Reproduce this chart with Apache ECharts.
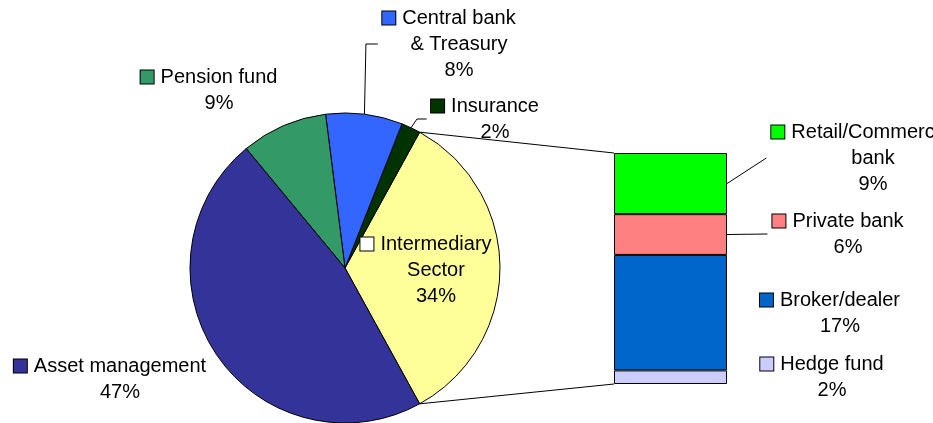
<!DOCTYPE html>
<html><head><meta charset="utf-8">
<script src="https://cdn.jsdelivr.net/npm/echarts@6/dist/echarts.min.js"></script>
<style>html,body{margin:0;padding:0;background:#fff}#c{width:933px;height:423px}</style>
</head><body><div id="c"></div>
<script>
// ---- data ----
const pieNames = ['Intermediary\nSector', 'Insurance', 'Central bank\n& Treasury', 'Pension fund', 'Asset management'];
const pieValues = [34, 2, 8, 9, 47];
const barNames = ['Hedge fund', 'Broker/dealer', 'Private bank', 'Retail/Commercial\nbank'];
const barValues = [2, 17, 6, 9];

// ---- styles / layout ----
const pieColors = ['#FFFF99', '#003300', '#3366FF', '#339966', '#333399'];
const pieKeyColors = ['#FFFFFF', '#003300', '#3366FF', '#339966', '#333399'];
const barColors = ['#CCCCFF', '#0066CC', '#FF8080', '#00FF00'];
const pieLabelPos = [[436, 270], [495, 119], [459, 44], [219, 90], [120, 379]];
const pieLeader = [false, true, true, false, false];
const pieElbowDx = [0, 6, 1.5, 0, 0];
const barLabelPos = [[832, 377], [840, 313], [848, 234], [873, 158]];
const barLeader = [false, false, true, true];
const PIE_C = [345, 268], PIE_R = 155;
const GRID = { left: 614, top: 153, width: 113, height: 231 };
const KEY = 13, GAP = 7;
const FONT = { fontFamily: 'Liberation Sans, Arial, sans-serif', fontSize: 20, color: '#000', lineHeight: 26 };

const pieTotal = pieValues.reduce((a, b) => a + b, 0);
const barTotal = barValues.reduce((a, b) => a + b, 0);
const startAngle = -(pieValues[0] / pieTotal * 360) / 2;

function midAngle(i) {
  let acc = 0;
  for (let k = 0; k < i; k++) acc += pieValues[k];
  return startAngle + (acc + pieValues[i] / 2) / pieTotal * 360;
}

function richFor(prefix, colors) {
  const r = { g: { width: GAP }, p: { width: KEY + GAP } };
  colors.forEach((c, i) => {
    r[prefix + i] = { width: KEY, height: KEY, backgroundColor: c, borderColor: '#000', borderWidth: 1 };
  });
  return r;
}

function labelText(key, name, value) {
  const lines = name.split('\n');
  const out = ['{' + key + '|}{g|}' + lines[0] + '{p|}'];
  for (let k = 1; k < lines.length; k++) out.push(lines[k]);
  out.push(value + '%');
  return out.join('\n');
}

const measureCtx = document.createElement('canvas').getContext('2d');
measureCtx.font = FONT.fontSize + 'px ' + FONT.fontFamily;
function firstLineWidth(name) {
  return measureCtx.measureText(name.split('\n')[0]).width + 2 * (KEY + GAP);
}

const chart = echarts.init(document.getElementById('c'), null, { renderer: 'canvas' });

const series = [{
  type: 'pie',
  center: PIE_C,
  radius: PIE_R,
  startAngle: startAngle,
  clockwise: false,
  avoidLabelOverlap: false,
  silent: true,
  itemStyle: { borderColor: '#000', borderWidth: 1 },
  label: Object.assign({
    show: true, position: 'outside',
    formatter: p => labelText('k' + p.dataIndex, pieNames[p.dataIndex], pieValues[p.dataIndex]),
    rich: richFor('k', pieKeyColors)
  }, FONT),
  labelLine: { show: true, smooth: false, lineStyle: { color: '#000', width: 1 } },
  labelLayout: function (params) {
    const i = params.dataIndex;
    const [cx, cy] = pieLabelPos[i];
    const res = { x: cx, y: cy, align: 'center', verticalAlign: 'middle' };
    if (pieLeader[i]) {
      const a = midAngle(i) * Math.PI / 180;
      const p0 = [PIE_C[0] + PIE_R * Math.cos(a), PIE_C[1] - PIE_R * Math.sin(a)];
      const endX = cx - params.labelRect.width / 2 - 4;
      res.labelLinePoints = [p0, [p0[0] + pieElbowDx[i], cy], [endX, cy]];
    }
    return res;
  },
  data: pieValues.map((v, i) => ({
    name: pieNames[i], value: v,
    itemStyle: { color: pieColors[i] },
    labelLine: { show: pieLeader[i] }
  }))
}];

barValues.forEach((v, i) => {
  series.push({
    type: 'bar',
    stack: 'sector',
    barWidth: '100%',
    silent: true,
    itemStyle: { color: barColors[i], borderColor: '#000', borderWidth: 1 },
    label: Object.assign({
      show: true, position: 'right',
      formatter: () => labelText('b' + i, barNames[i], barValues[i]),
      rich: richFor('b', barColors)
    }, FONT),
    labelLayout: function () {
      const [cx, cy] = barLabelPos[i];
      return { x: cx, y: cy, align: 'center', verticalAlign: 'middle' };
    },
    data: [v]
  });
});

chart.setOption({
  animation: false,
  backgroundColor: '#fff',
  grid: Object.assign({}, GRID),
  xAxis: { type: 'category', data: ['Intermediary Sector'], show: false, boundaryGap: true },
  yAxis: { type: 'value', min: 0, max: barTotal, show: false },
  series: series
});

// connector lines from the pie's "other" slice to the stacked bar
const a0 = (pieValues[0] / pieTotal * 360) / 2 * Math.PI / 180;
const yTop = chart.convertToPixel({ yAxisIndex: 0 }, barTotal);
const yBot = chart.convertToPixel({ yAxisIndex: 0 }, 0);
const xMid = chart.convertToPixel({ xAxisIndex: 0 }, 0);
const xLeft = xMid - GRID.width / 2;
const xRight = xMid + GRID.width / 2;
const px = PIE_C[0] + PIE_R * Math.cos(a0);
const line = (x1, y1, x2, y2) => ({ type: 'line', silent: true, shape: { x1, y1, x2, y2 }, style: { stroke: '#000', lineWidth: 1 } });
const graphics = [
  line(px, PIE_C[1] - PIE_R * Math.sin(a0), xLeft, yTop),
  line(px, PIE_C[1] + PIE_R * Math.sin(a0), xLeft, yBot)
];
// leader lines for bar segments
let cum = 0;
barValues.forEach((v, i) => {
  const mid = cum + v / 2;
  cum += v;
  if (!barLeader[i]) return;
  const ySeg = chart.convertToPixel({ yAxisIndex: 0 }, mid);
  const [cx, cy] = barLabelPos[i];
  const endX = cx - firstLineWidth(barNames[i]) / 2 - 5;
  graphics.push(line(xRight, ySeg, endX, cy));
});
chart.setOption({ graphic: graphics });
</script>
</body></html>
